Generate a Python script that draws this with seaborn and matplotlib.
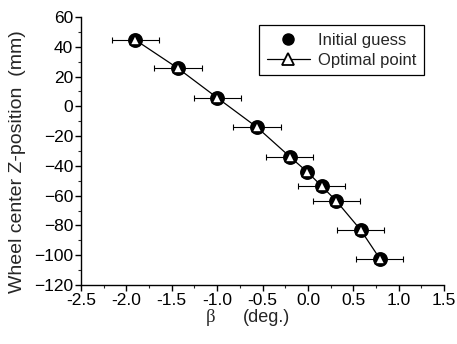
import pandas as pd
import seaborn as sns
import matplotlib.pyplot as plt
from matplotlib.lines import Line2D
from matplotlib.ticker import MultipleLocator

# data
beta = [-1.90, -1.43, -1.00, -0.56, -0.20, -0.01, 0.15, 0.31, 0.58, 0.79]
z_pos = [44.6, 25.5, 5.8, -14.1, -33.8, -43.9, -53.5, -63.4, -83.0, -102.2]
beta_err = [0.26, 0.26, 0.26, 0.26, 0.26, 0.0, 0.26, 0.26, 0.26, 0.26]
x_ticks = [-2.5, -2.0, -1.5, -1.0, -0.5, 0.0, 0.5, 1.0, 1.5]
legend_labels = ["Initial guess", "Optimal point"]

df = pd.DataFrame({"beta": beta, "z": z_pos, "err": beta_err})

sns.set_theme(style="ticks")
plt.rcParams["font.family"] = ["Liberation Sans", "DejaVu Sans"]

fig = plt.figure(figsize=(4.57, 3.44), dpi=100)
ax = fig.add_axes([0.177, 0.1715, 0.795, 0.779])

# error bars
ax.errorbar(df["beta"], df["z"], xerr=df["err"], fmt="none", ecolor="black",
            elinewidth=0.8, capsize=2, capthick=0.8, zorder=1)
# initial guess (black dots, under the optimal points)
sns.scatterplot(data=df, x="beta", y="z", ax=ax, marker="o", s=115,
                color="black", edgecolor="black", linewidth=0, zorder=2)
# optimal point
sns.lineplot(data=df, x="beta", y="z", ax=ax, color="black", linewidth=0.9,
             marker="^", markersize=6.5, markerfacecolor="white",
             markeredgecolor="black", markeredgewidth=1.2, sort=False, zorder=3)

ax.set_xlim(-2.5, 1.5)
ax.set_ylim(-120, 60)
ax.set_xticks(x_ticks)
ax.set_xticklabels([f"{v:.1f}" for v in x_ticks])
ax.xaxis.set_minor_locator(MultipleLocator(0.25))
ax.yaxis.set_major_locator(MultipleLocator(20))
ax.yaxis.set_minor_locator(MultipleLocator(10))
ax.tick_params(which="major", direction="out", length=4, width=1,
               labelsize=12.5, pad=1.5, colors="black")
ax.tick_params(which="minor", direction="out", length=2, width=0.8)
for s in ["top", "right"]:
    ax.spines[s].set_visible(False)
for s in ["left", "bottom"]:
    ax.spines[s].set_color("black")
    ax.spines[s].set_linewidth(1.0)

ax.set_xlabel("")
ax.set_ylabel("")
fig.text(18 / 457, 1 - 162 / 344, "Wheel center Z-position  (mm)",
         rotation=90, ha="center", va="center", fontsize=14)
fig.text(211 / 457, 1 - 318 / 344, "β", ha="center", va="center",
         fontsize=13.5, family=["Liberation Serif", "DejaVu Serif"])
fig.text(266 / 457, 1 - 318 / 344, "(deg.)", ha="center", va="center",
         fontsize=13)

# legend
handles = [
    Line2D([], [], linestyle="none", marker="o", markersize=8,
           color="black"),
    Line2D([], [], color="black", linewidth=0.9, marker="^", markersize=8,
           markerfacecolor="white", markeredgecolor="black",
           markeredgewidth=1.3),
]
leg = ax.legend(handles, legend_labels, loc="upper right",
                bbox_to_anchor=(0.945, 0.97), frameon=True, fancybox=False,
                framealpha=1, edgecolor="black", fontsize=12,
                handlelength=2.6, borderpad=0.45, labelspacing=0.3,
                handletextpad=0.5, borderaxespad=0)
leg.get_frame().set_linewidth(0.9)

fig.savefig("out.png", dpi=100)
plt.close(fig)
